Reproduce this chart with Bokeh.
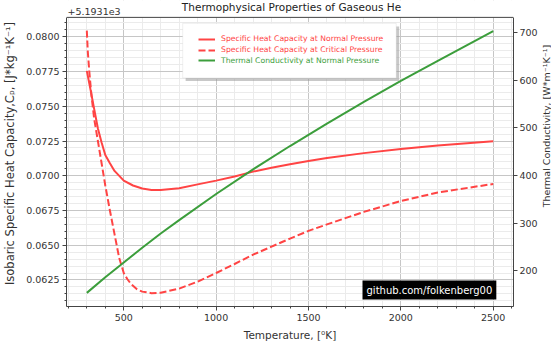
from math import pi
from bokeh.plotting import figure
from bokeh.layouts import row
from bokeh.models import (Range1d, LinearAxis, FixedTicker, Legend, LegendItem,
                          Label, BoxAnnotation, PrintfTickFormatter, Span)
from bokeh.embed import file_html
from bokeh.resources import INLINE

# ---------------- data ----------------
temp_normal = [300, 320, 340, 360, 380, 400, 425, 450, 500, 550, 600, 650, 700,
               800, 900, 1000, 1100, 1200, 1300, 1400, 1500, 1600, 1800, 2000,
               2200, 2500]
cp_normal = [0.07755, 0.0762, 0.0748, 0.0734, 0.0724, 0.0715, 0.0709, 0.07035,
             0.06965, 0.0693, 0.06908, 0.06898, 0.06898, 0.06910, 0.06938,
             0.06965, 0.06995, 0.07030, 0.07058, 0.07083, 0.07106, 0.07128,
             0.07163, 0.07192, 0.07218, 0.07249]

temp_crit = [300, 305, 313, 325, 340, 360, 380, 400, 425, 450, 475, 500, 520,
             540, 570, 600, 650, 700, 800, 900, 1000, 1100, 1200, 1300, 1400,
             1500, 1600, 1800, 2000, 2200, 2500]
cp_crit = [0.08045, 0.0790, 0.07757, 0.0758, 0.07409, 0.0725, 0.0709, 0.0693,
           0.0675, 0.0658, 0.0641, 0.0630, 0.06255, 0.06220, 0.06185, 0.06166,
           0.06155, 0.06158, 0.06188, 0.06238, 0.06300, 0.06365, 0.06432,
           0.06490, 0.06548, 0.06603, 0.06650, 0.06740, 0.06818, 0.06880,
           0.06941]

temp_k = [300, 400, 500, 600, 700, 800, 1000, 1200, 1400, 1600, 1800, 2000,
          2200, 2500]
k_normal = [153, 186, 217, 248, 278, 306, 361, 413, 462, 509, 555, 599, 641, 704]

x_ticks = [500, 1000, 1500, 2000, 2500]
x_minor = list(range(200, 2700, 100))
cp_ticks = [0.0625, 0.0650, 0.0675, 0.0700, 0.0725, 0.0750, 0.0775, 0.0800]
cp_minor = [round(0.0610 + 0.0005 * i, 4) for i in range(41)]
k_ticks = [200, 300, 400, 500, 600, 700]

title_text = "Thermophysical Properties of Gaseous He"
cp_offset_text = "+5.1931e3"
x_label = "Temperature, [\u2070K]"
cp_label = "Isobaric Specific Heat Capacity,C\u209a, [J*kg\u207b\u00b9K\u207b\u00b9]"
k_label = "Thermal Conductivity, [W*m\u207b\u00b9K\u207b\u00b9]"
legend_labels = ["Specific Heat Capacity at Normal Pressure",
                 "Specific Heat Capacity at Critical Pressure",
                 "Thermal Conductivity at Normal Pressure"]
watermark = "github.com/folkenberg00"

# ---------------- styles / layout ----------------
FONT = "DejaVu Sans"
RED = "#ff4444"
GREEN = "#3c9e3c"
AX = "#444444"
TXT = "#333333"
H = 343

X0, X1 = 190, 2610            # axes limits (matplotlib-like 5% margins)
CP0, CP1 = 0.06059, 0.08140
K0, K1 = 124.35, 732.65
TOP_STRIP = 17                # px above the axes box (title row)
AX_H = 291                    # px height of the axes box
cp_top = CP1 + TOP_STRIP * (CP1 - CP0) / AX_H
k_top = K1 + TOP_STRIP * (K1 - K0) / AX_H

# ---- narrow strip figure that carries the right axis title ----
p_right = figure(width=11, height=H, output_backend="svg", toolbar_location=None,
                 title=None, x_axis_type=None, y_axis_type=None,
                 x_range=Range1d(0, 1), y_range=Range1d(0, 1),
                 min_border=0, min_border_left=0, min_border_right=0,
                 min_border_top=0, min_border_bottom=0)
p_right.outline_line_color = None
p_right.background_fill_color = "white"
p_right.border_fill_color = "white"
p_right.add_layout(Label(x=6, y=H - 162.5, x_units="screen", y_units="screen",
                         text=k_label, angle=pi / 2, text_align="center",
                         text_baseline="middle", text_font=FONT,
                         text_font_size="9.5px", text_color=TXT))

# ---------------- main figure ----------------
p = figure(width=540, height=H, output_backend="svg", toolbar_location=None,
           title=None,
           x_range=Range1d(X0, X1), y_range=Range1d(CP0, cp_top),
           min_border_left=66, min_border_right=24, min_border_top=0,
           min_border_bottom=35)
p.background_fill_color = "white"
p.border_fill_color = "white"
p.outline_line_color = None

p.extra_y_ranges = {"k": Range1d(K0, k_top)}

xt = FixedTicker(ticks=x_ticks, minor_ticks=x_minor)
p.xaxis.ticker = xt
p.xgrid.ticker = xt
yt = FixedTicker(ticks=cp_ticks, minor_ticks=cp_minor)
p.yaxis.ticker = yt
p.ygrid.ticker = yt
p.yaxis.formatter = PrintfTickFormatter(format="%.4f")
p.yaxis.bounds = (CP0, CP1)

for ax in (p.xaxis[0], p.yaxis[0]):
    ax.axis_line_color = AX
    ax.major_tick_line_color = AX
    ax.minor_tick_line_color = AX
    ax.major_tick_out = 4
    ax.major_tick_in = 0
    ax.minor_tick_out = 2
    ax.minor_tick_in = 0
    ax.major_label_text_font = FONT
    ax.major_label_text_font_size = "9.5px"
    ax.major_label_text_color = TXT
    ax.major_label_standoff = 3
    ax.axis_label_text_font = FONT
    ax.axis_label_text_font_style = "normal"
    ax.axis_label_text_color = TXT

p.xaxis.axis_label = x_label
p.xaxis.axis_label_text_font_size = "10.5px"
p.xaxis.axis_label_standoff = 5
p.yaxis.axis_label = cp_label
p.yaxis.axis_label_text_font_size = "11.5px"
p.yaxis.axis_label_standoff = 6

kax = LinearAxis(y_range_name="k", ticker=FixedTicker(ticks=k_ticks, minor_ticks=[]),
                 bounds=(K0, K1))
kax.axis_line_color = AX
kax.major_tick_line_color = AX
kax.major_tick_out = 4
kax.major_tick_in = 0
kax.major_label_text_font = FONT
kax.major_label_text_font_size = "9.5px"
kax.major_label_text_color = TXT
kax.major_label_standoff = 2
p.add_layout(kax, "right")

for g in (p.xgrid[0], p.ygrid[0]):
    g.grid_line_color = "#c6c6c6"
    g.grid_line_width = 1
    g.minor_grid_line_color = "#ebebeb"
    g.minor_grid_line_width = 1

# ---------------- curves ----------------
r1 = p.line(temp_normal, cp_normal, line_color=RED, line_width=2)
r2 = p.line(temp_crit, cp_crit, line_color=RED, line_width=2, line_dash="7 3")
r3 = p.line(temp_k, k_normal, line_color=GREEN, line_width=2, y_range_name="k")

# white strip above the axes box (holds the title row) and the top spine
p.add_layout(BoxAnnotation(left=X0, right=X1, bottom=CP1, top=cp_top,
                           fill_color="white", fill_alpha=1.0, line_alpha=0))
p.add_layout(Span(location=CP1, dimension="width", line_color=AX, line_width=1))

# ---------------- legend ----------------
shadow = BoxAnnotation(left=835, right=1991, top=0.08075, bottom=0.07683,
                       fill_color="#9a9a9a", fill_alpha=0.55, line_alpha=0)
box = BoxAnnotation(left=819, right=1975, top=0.08097, bottom=0.07704,
                    fill_color="white", fill_alpha=1.0, line_color="#cccccc",
                    line_width=1)
p.add_layout(shadow)
p.add_layout(box)

legend_specs = [(r1, legend_labels[0], RED, 262.3),
                (r2, legend_labels[1], RED, 251.3),
                (r3, legend_labels[2], GREEN, 240.7)]
for rend, txt, col, yy in legend_specs:
    lg = Legend(items=[LegendItem(label=txt, renderers=[rend])],
                location=(132, yy), orientation="vertical",
                label_text_color=col, label_text_font=FONT,
                label_text_font_size="7.7px", glyph_width=17, glyph_height=10,
                label_height=10, label_standoff=6, padding=0, margin=0,
                spacing=0, border_line_alpha=0, background_fill_alpha=0)
    p.add_layout(lg, "center")

# ---------------- texts ----------------
p.add_layout(Label(x=225, y=300, x_units="screen", y_units="screen",
                   text=title_text, text_align="center", text_baseline="middle",
                   text_font=FONT, text_font_size="10.5px", text_color="#222222"))
p.add_layout(Label(x=1, y=295.5, x_units="screen", y_units="screen",
                   text=cp_offset_text, text_align="left", text_baseline="middle",
                   text_font=FONT, text_font_size="9.5px", text_color=TXT))
p.add_layout(Label(x=296, y=16.5, x_units="screen", y_units="screen",
                   text=watermark, text_align="left", text_baseline="middle",
                   text_font=FONT, text_font_size="10px", text_color="white",
                   background_fill_color="black", background_fill_alpha=1.0,
                   padding=4))

layout = row(p, p_right, spacing=0)
open("out.html", "w").write(file_html(layout, INLINE))
